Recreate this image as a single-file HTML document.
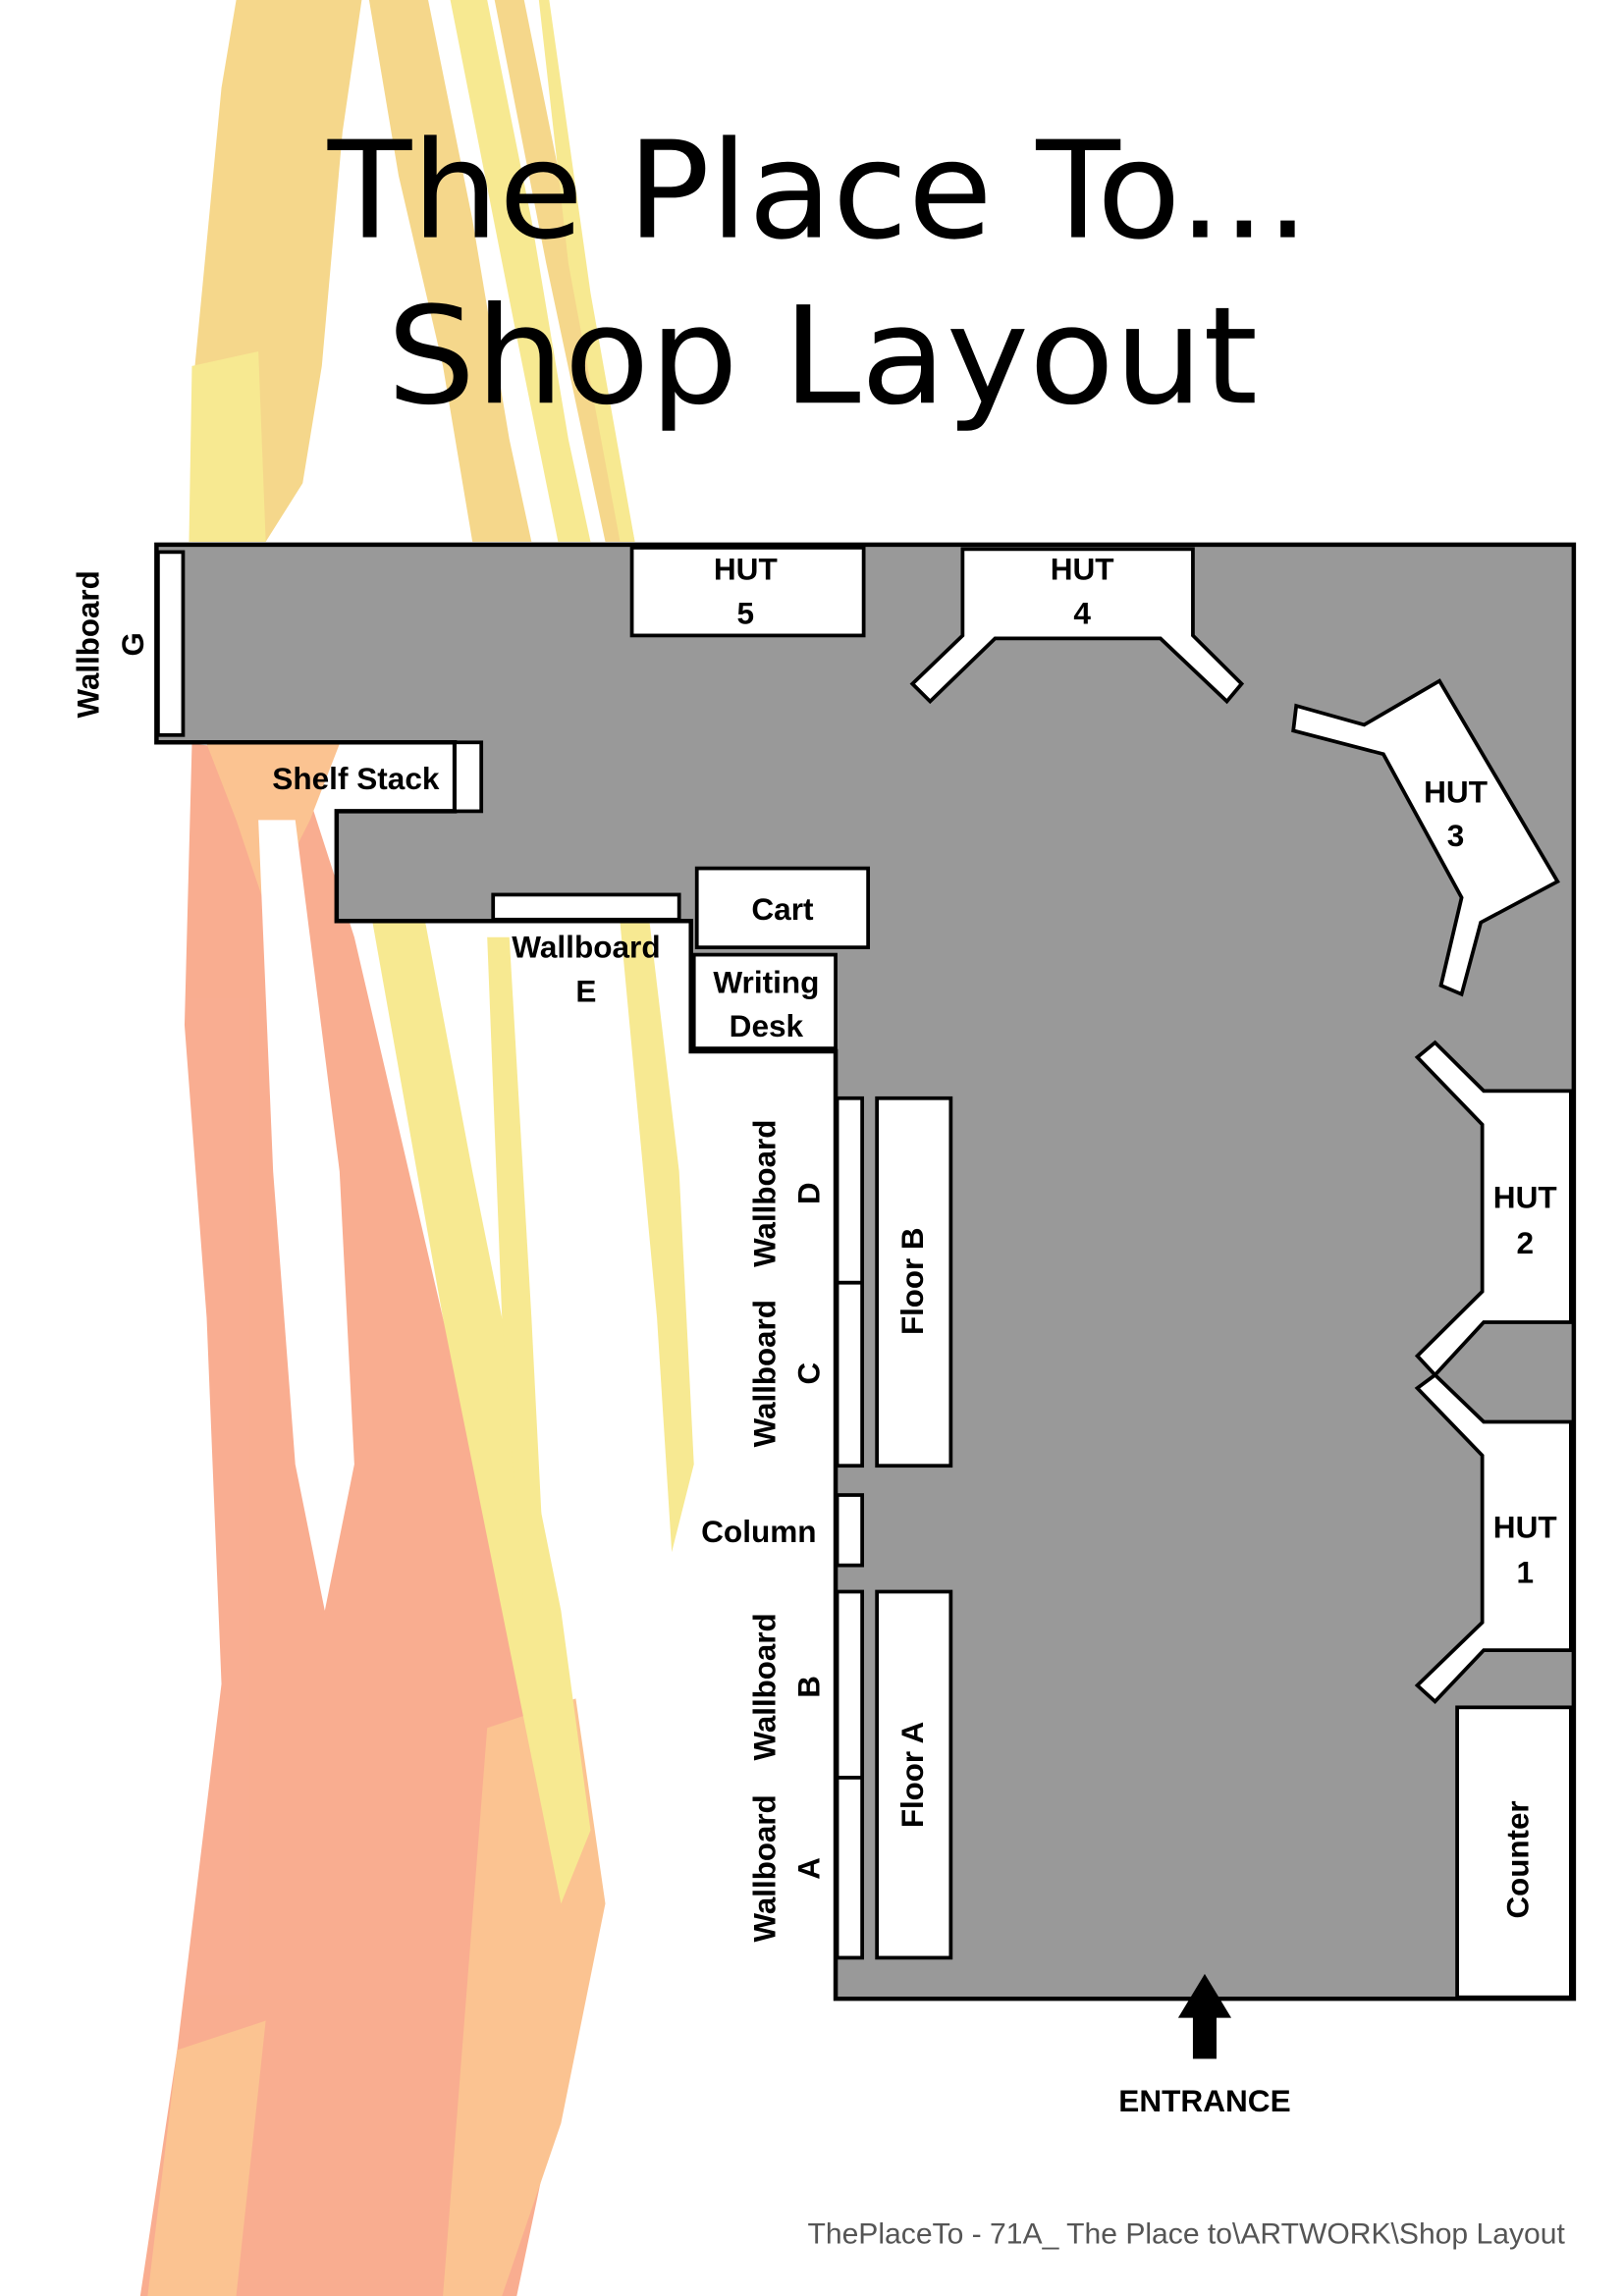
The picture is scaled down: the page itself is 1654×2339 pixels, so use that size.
<!DOCTYPE html>
<html><head><meta charset="utf-8"><style>html,body{margin:0;padding:0;background:#fff}svg{display:block}</style></head>
<body>
<svg width="1654" height="2339" viewBox="0 0 1100 1568" preserveAspectRatio="none" xmlns="http://www.w3.org/2000/svg">
<g opacity="0.95">
<polygon fill="#f5d585" points="160,0 245,0 232,90 218,250 205,330 180,370 130,370 132,250 150,60"/>
<polygon fill="#f7e88c" points="130,250 175,240 180,370 128,370"/>
<polygon fill="#f5d585" points="250,0 290,0 320,150 345,300 360,370 320,370 300,250 270,120"/>
<polygon fill="#f7e88c" points="305,0 330,0 360,150 385,300 400,370 378,370 350,230"/>
<polygon fill="#f5d585" points="335,0 355,0 395,200 430,370 410,370 370,180"/>
<polygon fill="#f7e88c" points="365,0 372,0 400,200 430,370 420,370 385,180"/>
<polygon fill="#f9a98b" points="130,508 200,515 240,640 300,900 350,1100 390,1250 385,1400 350,1568 95,1568 120,1400 150,1150 140,900 125,700"/>
<polygon fill="#fbc08c" points="140,508 230,508 210,560 180,620 160,560"/>
<polygon fill="#fbc08c" points="330,1180 390,1160 410,1300 380,1450 340,1568 300,1568"/>
<polygon fill="#ffffff" points="175,560 200,560 230,800 240,1000 220,1100 200,1000 185,800"/>
<polygon fill="#f7e88c" points="240,560 275,560 320,800 380,1100 400,1250 380,1300 350,1150 300,900"/>
<polygon fill="#f7e88c" points="330,640 345,640 360,900 370,1100 355,1100 340,900"/>
<polygon fill="#f7e88c" points="420,630 440,630 460,800 470,1000 455,1060 445,900"/>
<polygon fill="#fbc08c" points="120,1400 180,1380 160,1568 100,1568"/>
</g>
<g font-family="DejaVu Sans, sans-serif" font-size="92" fill="#000">
<text x="222" y="162" textLength="665" lengthAdjust="spacingAndGlyphs">The Place To...</text>
<text x="262" y="275" textLength="590" lengthAdjust="spacingAndGlyphs">Shop Layout</text>
</g>
<polygon fill="#999" stroke="#000" stroke-width="3" points="106,372 1066,372 1066,1365 566,1365 566,718 468,718 468,629 228,629 228,554 308,554 308,507 106,507"/>
<g fill="#fff" stroke="#000" stroke-width="2.5">
<rect x="107" y="377" width="17" height="125"/>
<rect x="308" y="507" width="18" height="47"/>
<rect x="334" y="611" width="126" height="17"/>
<rect x="428" y="374" width="157" height="60"/>
<polygon points="652,375 808,375 808,434 841,467 831,479 786,436 674,436 630,479 618,467 652,434"/>
<polygon points="878,482 924,495 975,465 1055,602 1003,630 990,679 976,673 990,613 937,515 876,499"/>
<rect x="472" y="593" width="116" height="54"/>
<rect x="470" y="652" width="96" height="64"/>
<rect x="567" y="750" width="17" height="126"/>
<rect x="567" y="876" width="17" height="125"/>
<rect x="594" y="750" width="50" height="251"/>
<rect x="567" y="1021" width="17" height="48"/>
<rect x="567" y="1087" width="17" height="127"/>
<rect x="567" y="1214" width="17" height="123"/>
<rect x="594" y="1087" width="50" height="250"/>
<polygon points="960,722 972,712 1005,745 1064,745 1064,903 1005,903 972,939 960,926 1004,882 1004,768"/>
<polygon points="960,948 972,939 1005,971 1064,971 1064,1127 1005,1127 972,1162 960,1151 1004,1108 1004,994"/>
<rect x="987" y="1166" width="77" height="198"/>
</g>
<polygon fill="#000" points="816,1348 798,1378 808,1378 808,1406 824,1406 824,1378 834,1378"/>
<g font-family="Liberation Sans, sans-serif" font-weight="bold" font-size="21" fill="#000" text-anchor="middle">
<text x="505" y="396">HUT</text><text x="505" y="426">5</text>
<text x="733" y="396">HUT</text><text x="733" y="426">4</text>
<text x="986" y="548">HUT</text><text x="986" y="578">3</text>
<text x="1033" y="825">HUT</text><text x="1033" y="856">2</text>
<text x="1033" y="1050">HUT</text><text x="1033" y="1081">1</text>
<text x="241" y="539">Shelf Stack</text>
<text x="530" y="628">Cart</text>
<text x="519" y="678">Writing</text><text x="519" y="708">Desk</text>
<text x="397" y="654">Wallboard</text><text x="397" y="684">E</text>
<text x="514" y="1053">Column</text>
<text x="816" y="1442">ENTRANCE</text>
<g transform="translate(67,440) rotate(-90)"><text x="0" y="0">Wallboard</text><text x="0" y="30">G</text></g>
<g transform="translate(525,815) rotate(-90)"><text x="0" y="0">Wallboard</text><text x="0" y="30">D</text></g>
<g transform="translate(525,938) rotate(-90)"><text x="0" y="0">Wallboard</text><text x="0" y="30">C</text></g>
<g transform="translate(525,1152) rotate(-90)"><text x="0" y="0">Wallboard</text><text x="0" y="30">B</text></g>
<g transform="translate(525,1276) rotate(-90)"><text x="0" y="0">Wallboard</text><text x="0" y="30">A</text></g>
<g transform="translate(625,875) rotate(-90)"><text x="0" y="0">Floor B</text></g>
<g transform="translate(625,1212) rotate(-90)"><text x="0" y="0">Floor A</text></g>
<g transform="translate(1035,1270) rotate(-90)"><text x="0" y="0">Counter</text></g>
</g>
<text x="547" y="1532" font-family="Liberation Sans, sans-serif" font-size="20" fill="#555" textLength="513" lengthAdjust="spacingAndGlyphs">ThePlaceTo - 71A_ The Place to\ARTWORK\Shop Layout</text>
</svg>
</body></html>
